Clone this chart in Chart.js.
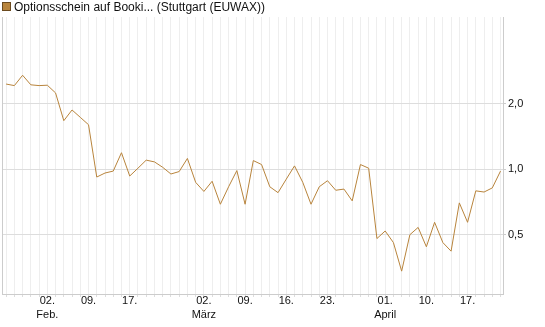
<!DOCTYPE html>
<html>
<head>
<meta charset="utf-8">
<script src="https://cdn.jsdelivr.net/npm/chart.js@4"></script>
<style>html,body{margin:0;padding:0;background:#fff}canvas{display:block}</style>
</head>
<body>
<canvas id="c" width="545" height="327"></canvas>
<script>
const seriesName = 'Optionsschein auf Booki... (Stuttgart (EUWAX))';

const dates = [
  '2026-01-26','2026-01-27','2026-01-28','2026-01-29','2026-01-30',
  '2026-02-02','2026-02-03','2026-02-04','2026-02-05','2026-02-06',
  '2026-02-09','2026-02-10','2026-02-11','2026-02-12','2026-02-13',
  '2026-02-17','2026-02-18','2026-02-19','2026-02-20',
  '2026-02-23','2026-02-24','2026-02-25','2026-02-26','2026-02-27',
  '2026-03-02','2026-03-03','2026-03-04','2026-03-05','2026-03-06',
  '2026-03-09','2026-03-10','2026-03-11','2026-03-12','2026-03-13',
  '2026-03-16','2026-03-17','2026-03-18','2026-03-19','2026-03-20',
  '2026-03-23','2026-03-24','2026-03-25','2026-03-26','2026-03-27',
  '2026-03-30','2026-03-31','2026-04-01','2026-04-02',
  '2026-04-07','2026-04-08','2026-04-09','2026-04-10',
  '2026-04-13','2026-04-14','2026-04-15','2026-04-16','2026-04-17',
  '2026-04-20','2026-04-21','2026-04-22','2026-04-23'
];

const values = [
  2.46, 2.42, 2.70, 2.44, 2.42,
  2.43, 2.24, 1.67, 1.87, 1.73,
  1.60, 0.92, 0.96, 0.98, 1.19,
  0.93, 1.01, 1.10, 1.08,
  1.02, 0.95, 0.975, 1.12, 0.87,
  0.79, 0.88, 0.69, 0.83, 0.985,
  0.69, 1.095, 1.05, 0.83, 0.78,
  0.90, 1.035, 0.87, 0.69, 0.83,
  0.885, 0.80, 0.81, 0.715, 1.05,
  1.01, 0.48, 0.52, 0.46,
  0.34, 0.50, 0.54, 0.44,
  0.57, 0.46, 0.42, 0.70, 0.57,
  0.795, 0.785, 0.82, 0.98
];

const tickIndex = [5, 10, 15, 24, 29, 34, 39, 46, 51, 56];
const tickText = [['02.', 'Feb.'], '09.', '17.', ['02.', 'März'], '09.', '16.', '23.', ['01.', 'April'], '10.', '17.'];
const yTicks = [0.5, 1, 2];

const lineColor = '#b8843c';
const fontFamily = '"Liberation Sans", Arial, sans-serif';

const legendPlugin = {
  id: 'legendBox',
  afterDraw(chart) {
    const c = chart.ctx;
    c.save();
    c.fillStyle = lineColor;
    c.fillRect(2, 2, 9, 9);
    c.strokeStyle = '#6b4a1f';
    c.lineWidth = 1;
    c.strokeRect(2.5, 2.5, 8, 8);
    c.fillStyle = '#111';
    c.font = '12px ' + fontFamily;
    c.textBaseline = 'alphabetic';
    c.textAlign = 'left';
    c.fillText(chart.data.datasets[0].label, 14, 11);
    c.restore();
  }
};

new Chart(document.getElementById('c').getContext('2d'), {
  type: 'line',
  data: {
    datasets: [{
      label: seriesName,
      data: values.map((v, i) => ({ x: i, y: v })),
      borderColor: lineColor,
      backgroundColor: lineColor,
      borderWidth: 1,
      pointRadius: 0,
      tension: 0,
      fill: false,
      xAxisID: 'x',
      yAxisID: 'y'
    }]
  },
  options: {
    responsive: false,
    animation: false,
    devicePixelRatio: 1,
    layout: { padding: { left: 2, top: 17, right: 0, bottom: 0 } },
    plugins: { legend: { display: false }, tooltip: { enabled: false } },
    scales: {
      x: {
        type: 'linear',
        min: -0.5,
        max: 60.3,
        afterBuildTicks: s => { s.ticks = dates.map((d, i) => ({ value: i })); },
        afterFit: s => { s.height = 33; },
        grid: { color: '#eeeeee', tickColor: '#dddddd', tickLength: 3, drawTicks: true },
        border: { display: true, color: '#cccccc' },
        ticks: {
          autoSkip: false,
          maxRotation: 0,
          minRotation: 0,
          padding: -3,
          color: '#111',
          font: { family: fontFamily, size: 11, lineHeight: '14px' },
          callback: v => { const k = tickIndex.indexOf(v); return k >= 0 ? tickText[k] : ''; }
        }
      },
      y: {
        type: 'logarithmic',
        position: 'right',
        min: 0.267,
        max: 5,
        afterBuildTicks: s => { s.ticks = yTicks.map(v => ({ value: v })); },
        afterFit: s => { s.width = 42; },
        grid: { color: '#dddddd', tickColor: '#cccccc', tickLength: 3 },
        border: { display: true, color: '#cccccc' },
        ticks: {
          padding: 2,
          color: '#111',
          font: { family: fontFamily, size: 11 },
          callback: v => Number(v).toFixed(1).replace('.', ',')
        }
      },
      yl: {
        type: 'linear',
        position: 'left',
        display: true,
        grid: { display: false, drawTicks: false },
        ticks: { display: false },
        border: { display: true, color: '#cccccc' },
        afterFit: s => { s.width = 0; }
      }
    }
  },
  plugins: [legendPlugin]
});
</script>
</body>
</html>
